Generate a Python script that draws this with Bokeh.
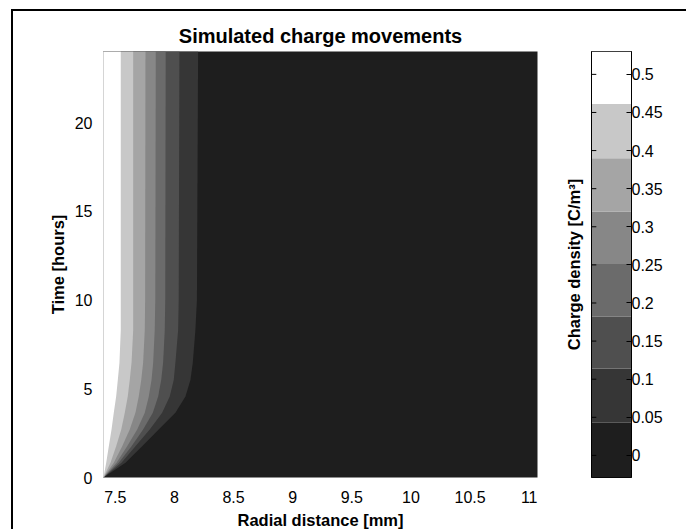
from bokeh.plotting import figure
from bokeh.layouts import row
from bokeh.models import FixedTicker, LinearAxis, Range1d
from bokeh.embed import file_html
from bokeh.resources import INLINE

# ---------------- data ----------------
# time samples (hours) at which the contour boundaries were read
time_h = [0, 0.83, 1.76, 2.7, 3.65, 4.57, 5.5, 6.46, 8.3, 10, 24]
# radial position (mm) of each filled-contour boundary, inner (high) to outer (low)
r_b1 = [7.400, 7.423, 7.445, 7.468, 7.487, 7.507, 7.521, 7.535, 7.546, 7.546, 7.546]
r_b2 = [7.400, 7.459, 7.507, 7.550, 7.580, 7.605, 7.622, 7.637, 7.651, 7.651, 7.651]
r_b3 = [7.400, 7.487, 7.558, 7.622, 7.670, 7.698, 7.719, 7.735, 7.749, 7.752, 7.755]
r_b4 = [7.400, 7.510, 7.600, 7.685, 7.749, 7.783, 7.806, 7.820, 7.833, 7.838, 7.842]
r_b5 = [7.400, 7.529, 7.637, 7.735, 7.817, 7.862, 7.888, 7.904, 7.918, 7.922, 7.926]
r_b6 = [7.400, 7.552, 7.670, 7.791, 7.896, 7.960, 7.994, 8.008, 8.031, 8.036, 8.042]
r_b7 = [7.400, 7.586, 7.727, 7.867, 8.008, 8.093, 8.135, 8.155, 8.177, 8.190, 8.200]

# contour levels (C/m^3) and grey of each band, low to high
levels = [-0.029, 0.043, 0.114, 0.182, 0.251, 0.320, 0.390, 0.461, 0.530]
band_colors = ["#1e1e1e", "#363636", "#4f4f4f", "#6b6b6b",
               "#878787", "#a5a5a5", "#c8c8c8", "#ffffff"]

x_ticks = [7.5, 8, 8.5, 9, 9.5, 10, 10.5, 11]
x_tick_labels = ["7.5", "8", "8.5", "9", "9.5", "10", "10.5", "11"]
y_ticks = [0, 5, 10, 15, 20]
y_tick_labels = ["0", "5", "10", "15", "20"]
cb_ticks = [0, 0.05, 0.1, 0.15, 0.2, 0.25, 0.3, 0.35, 0.4, 0.45, 0.5]
cb_tick_labels = ["0", "0.05", "0.1", "0.15", "0.2", "0.25", "0.3", "0.35",
                  "0.4", "0.45", "0.5"]

r_min, r_max = 7.40, 11.07
t_min, t_max = 0, 24

FONT = "Liberation Sans"
TICK_SIZE = "16px"
LABEL_SIZE = "16.5px"

# ---------------- main contour plot ----------------
p = figure(width=547, height=520, x_range=Range1d(r_min, r_max),
           y_range=Range1d(t_min, t_max), output_backend="svg",
           toolbar_location=None, min_border_left=90, min_border_right=23,
           min_border_top=40, min_border_bottom=53,
           title="Simulated charge movements")
p.background_fill_color = band_colors[0]
p.border_fill_color = "white"
p.outline_line_color = None
p.grid.visible = False

boundaries = [r_b7, r_b6, r_b5, r_b4, r_b3, r_b2, r_b1]
xs, ys, cols = [], [], []
for k, rb in enumerate(boundaries):
    xs.append([r_min - 0.1] + list(rb) + [r_min - 0.1])
    ys.append([time_h[0]] + list(time_h) + [time_h[-1]])
    cols.append(band_colors[k + 1])
p.patches(xs=xs, ys=ys, fill_color=cols, line_color=None)

p.title.align = "center"
p.title.text_font = FONT
p.title.text_font_size = "20px"
p.title.text_font_style = "bold"
p.title.text_color = "black"

for ax in (p.xaxis[0], p.yaxis[0]):
    ax.axis_line_color = None
    ax.major_tick_line_color = None
    ax.minor_tick_line_color = None
    ax.major_label_text_font = FONT
    ax.major_label_text_font_size = TICK_SIZE
    ax.major_label_text_color = "black"
    ax.axis_label_text_font = FONT
    ax.axis_label_text_font_size = LABEL_SIZE
    ax.axis_label_text_font_style = "bold"
    ax.axis_label_text_color = "black"

p.xaxis[0].ticker = FixedTicker(ticks=x_ticks)
p.xaxis[0].major_label_overrides = dict(zip(x_ticks, x_tick_labels))
p.xaxis[0].axis_label = "Radial distance [mm]"
p.xaxis[0].major_label_standoff = 7
p.xaxis[0].axis_label_standoff = 5

p.yaxis[0].ticker = FixedTicker(ticks=y_ticks)
p.yaxis[0].major_label_overrides = dict(zip(y_ticks, y_tick_labels))
p.yaxis[0].axis_label = "Time [hours]"
p.yaxis[0].major_label_standoff = 5
p.yaxis[0].axis_label_standoff = 5

# ---------------- colour bar ----------------
cb = figure(width=128, height=520, x_range=Range1d(0, 1),
            y_range=Range1d(levels[0], levels[-1]), output_backend="svg",
            toolbar_location=None, x_axis_location=None, y_axis_location=None,
            min_border_left=31, min_border_right=57, min_border_top=40,
            min_border_bottom=52)
cb.grid.visible = False
cb.outline_line_color = "black"
cb.border_fill_color = "white"
cb.quad(left=0, right=1, bottom=levels[:-1], top=levels[1:],
        fill_color=band_colors, line_color=None)
# inward tick marks on the left edge of the bar
cb.segment(x0=0, x1=0.12, y0=cb_ticks, y1=cb_ticks, line_color="black",
           line_width=1)

right_ax = LinearAxis(ticker=FixedTicker(ticks=cb_ticks),
                      major_label_overrides=dict(zip(cb_ticks, cb_tick_labels)))
right_ax.major_tick_in = 5
right_ax.major_tick_out = 0
right_ax.minor_tick_line_color = None
right_ax.axis_line_color = "black"
right_ax.major_label_text_font = FONT
right_ax.major_label_text_font_size = TICK_SIZE
right_ax.major_label_text_color = "black"
right_ax.major_label_standoff = 0
cb.add_layout(right_ax, "right")

left_ax = LinearAxis(ticker=FixedTicker(ticks=[]),
                     axis_label="Charge density [C/m³]")
left_ax.major_tick_line_color = None
left_ax.minor_tick_line_color = None
left_ax.axis_line_color = "black"
left_ax.axis_label_text_font = FONT
left_ax.axis_label_text_font_size = LABEL_SIZE
left_ax.axis_label_text_font_style = "bold"
left_ax.axis_label_text_color = "black"
left_ax.axis_label_standoff = 9
cb.add_layout(left_ax, "left")

layout = row(p, cb, margin=(11, 0, 0, 13),
             styles={"box-shadow": "-2px -2px 0 0 #000000"})

open("out.html", "w").write(file_html(layout, INLINE))
